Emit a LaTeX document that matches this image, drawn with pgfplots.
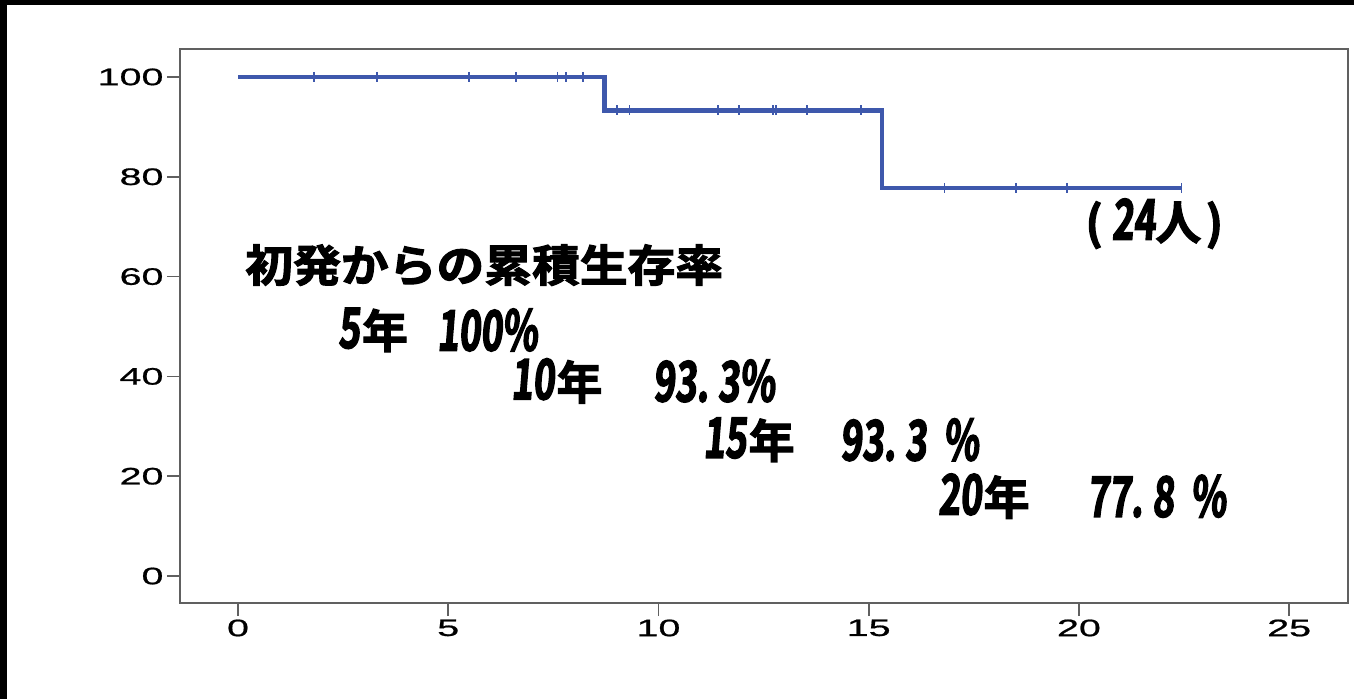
\documentclass[border=0pt]{standalone}
\usepackage{fontspec}
\usepackage{pgfplots}
\pgfplotsset{compat=1.18}
\setmainfont{Liberation Sans}
\newfontfamily\tickfont{Liberation Sans}[FakeStretch=1.65, FakeBold=0.8]
\newfontfamily\jp{Noto Sans CJK JP}[UprightFont=* Bold, FakeBold=2.5]
\newfontfamily\jptitle{Noto Sans CJK JP}[UprightFont=* Bold, FakeBold=2.5, FakeStretch=1.09]
\newfontfamily\jpnum{Noto Sans CJK JP}[UprightFont=* Bold, FakeBold=2.5, FakeStretch=0.66, FakeSlant=0.08]
\definecolor{kmblue}{RGB}{62,88,172}
\definecolor{axgray}{RGB}{96,96,96}
\newcommand{\jpsize}[1]{\fontsize{#1}{#1}\selectfont}
% "<n>年" in the mixed digit / kanji style
\newcommand{\nen}[1]{\jpnum\jpsize{56}#1\hspace{2bp}\jp\jpsize{46}年}
\begin{document}
\begin{tikzpicture}
\useasboundingbox (-180bp,-96bp) rectangle (1174bp,603bp);
% dark edges of the frame
\fill[black] (-180bp,-96bp) rectangle (-173bp,603bp);
\fill[black] (-180bp,598bp) rectangle (1174bp,603bp);
\begin{axis}[
  at={(0,0)}, anchor=south west,
  scale only axis,
  width=1168bp, height=554bp,
  xmin=-1.38, xmax=26.4,
  ymin=-5.4, ymax=105.6,
  xtick={0,5,10,15,20,25},
  ytick={0,20,40,60,80,100},
  tick align=outside,
  xtick pos=left, ytick pos=left,
  major tick length=13bp,
  axis line style={axgray, line width=1.8bp},
  tick style={axgray, line width=1.8bp},
  /pgf/number format/assume math mode=true,
  ticklabel style={font=\tickfont\jpsize{24}, text=black},
  clip=false,
]
% Kaplan-Meier step curve
\addplot[const plot, kmblue, line width=4.6bp] coordinates {
  (0,100) (8.72,93.33) (15.32,77.78) (22.44,77.78)
};
% censored observations
\addplot[only marks, mark=|, mark size=5bp, kmblue, mark options={line width=1.6bp}] coordinates {
  (1.81,100) (3.31,100) (5.50,100) (6.61,100) (7.60,100) (7.80,100) (8.21,100)
  (9.01,93.33) (9.31,93.33) (11.41,93.33) (11.92,93.33) (12.73,93.33) (12.79,93.33) (13.53,93.33) (14.82,93.33)
  (16.80,77.78) (18.50,77.78) (19.71,77.78) (22.44,77.78)
};
% annotations
\node[anchor=west, inner sep=0pt] at (axis cs:0.17,62.3) {\jptitle\jpsize{44}初発からの累積生存率};
\node[anchor=west, inner sep=0pt] at (axis cs:2.38,49.3) {\nen{5}};
\node[anchor=west, inner sep=0pt] at (axis cs:4.73,49.3) {\jpnum\jpsize{56}100\%};
\node[anchor=west, inner sep=0pt] at (axis cs:6.49,39.1) {\nen{10}};
\node[anchor=west, inner sep=0pt] at (axis cs:9.87,39.1) {\jpnum\jpsize{56}93.\,3\%};
\node[anchor=west, inner sep=0pt] at (axis cs:11.06,27.3) {\nen{15}};
\node[anchor=west, inner sep=0pt] at (axis cs:14.32,27.3) {\jpnum\jpsize{56}93.\,3\hspace{0.3em}\%};
\node[anchor=west, inner sep=0pt] at (axis cs:16.65,16.0) {\nen{20}};
\node[anchor=west, inner sep=0pt] at (axis cs:20.20,16.0) {\jpnum\jpsize{56}77.\,8\hspace{0.3em}\%};
\node[anchor=west, inner sep=0pt] at (axis cs:20.15,70.6) {\jp\jpsize{46}(\hspace{0.2em}\jpnum\jpsize{56}24\jp\jpsize{46}人\hspace{0.1em})};
\end{axis}
\end{tikzpicture}
\end{document}
